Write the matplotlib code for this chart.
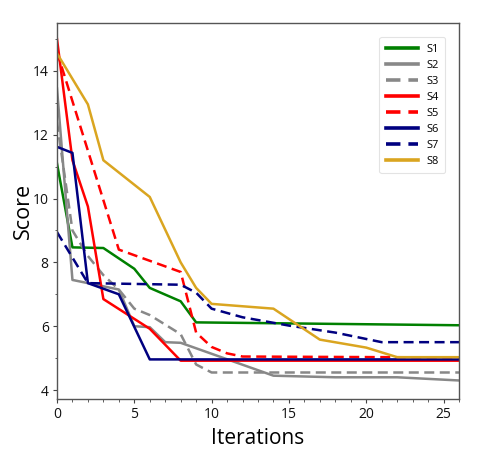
import matplotlib
matplotlib.use("Agg")
import matplotlib.pyplot as plt
from matplotlib.ticker import MultipleLocator

plt.rcParams['font.family'] = ['Open Sans', 'DejaVu Sans']

# Data (vertices)
s1_x = [0, 1, 3, 5, 6, 8, 9, 26]
s1_y = [11.1, 8.47, 8.45, 7.8, 7.2, 6.78, 6.12, 6.03]

s2_x = [0, 1, 2, 4, 5, 6, 7, 8, 14, 18, 22, 26]
s2_y = [13.45, 7.45, 7.35, 7.15, 6.0, 5.97, 5.5, 5.48, 4.45, 4.4, 4.4, 4.3]

s3_x = [0, 1, 2, 3, 4, 5, 6, 8, 9, 10, 26]
s3_y = [12.4, 9.0, 8.2, 7.6, 7.15, 6.55, 6.35, 5.75, 4.8, 4.55, 4.55]

s4_x = [0, 1, 2, 3, 6, 8, 26]
s4_y = [15.0, 11.2, 9.75, 6.85, 5.92, 4.92, 4.92]

s5_x = [0, 4, 8, 9, 10, 11, 12, 26]
s5_y = [14.6, 8.4, 7.7, 5.8, 5.35, 5.15, 5.05, 5.02]

s6_x = [0, 1, 2, 4, 6, 26]
s6_y = [11.62, 11.43, 7.35, 7.0, 4.96, 4.96]

s7_x = [0, 2, 8, 9, 10, 12, 15, 18, 21, 26]
s7_y = [8.95, 7.35, 7.3, 7.05, 6.55, 6.28, 6.02, 5.8, 5.5, 5.5]

s8_x = [0, 2, 3, 6, 8, 9, 10, 14, 17, 20, 22, 26]
s8_y = [14.55, 12.95, 11.2, 10.05, 8.0, 7.2, 6.7, 6.55, 5.58, 5.33, 5.03, 5.03]

series = [
    ("S1", s1_x, s1_y, "#008000", "-"),
    ("S2", s2_x, s2_y, "#888888", "-"),
    ("S3", s3_x, s3_y, "#888888", "--"),
    ("S4", s4_x, s4_y, "#ff0000", "-"),
    ("S5", s5_x, s5_y, "#ff0000", "--"),
    ("S6", s6_x, s6_y, "#000080", "-"),
    ("S7", s7_x, s7_y, "#000080", "--"),
    ("S8", s8_x, s8_y, "#daa520", "-"),
]

fig = plt.figure(figsize=(4.99, 4.62), dpi=100)
ax = fig.add_axes([0.1142, 0.1364, 0.8056, 0.8138])

for name, xs, ys, c, ls in series:
    if ls == "--":
        ax.plot(xs, ys, color=c, lw=1.8, linestyle=(0, (4, 2.2)), label=name)
    else:
        ax.plot(xs, ys, color=c, lw=1.8, label=name)

ax.set_xlim(0, 26)
ax.set_ylim(3.72, 15.5)
ax.xaxis.set_major_locator(MultipleLocator(5))
ax.xaxis.set_minor_locator(MultipleLocator(1))
ax.yaxis.set_major_locator(MultipleLocator(2))
ax.yaxis.set_minor_locator(MultipleLocator(1))
ax.tick_params(which='major', length=3, width=0.8, color='#444444', labelsize=10, labelcolor='#111111', pad=3)
ax.tick_params(which='minor', length=1.8, width=0.6, color='#444444')
for sp in ax.spines.values():
    sp.set_color('#555555')
    sp.set_linewidth(1.0)

ax.set_xlabel("Iterations", fontsize=15, labelpad=4)
ax.set_ylabel("Score", fontsize=15.5, labelpad=-1)

leg = ax.legend(loc='upper right', fontsize=8, handlelength=2.85, handletextpad=0.75,
                labelspacing=0.45, borderaxespad=1.25, borderpad=0.6,
                frameon=True, fancybox=True)
leg.get_frame().set_edgecolor('#dddddd')
leg.get_frame().set_linewidth(0.8)
for line in leg.get_lines():
    line.set_linewidth(2.6)

fig.savefig("out.png", dpi=100)
